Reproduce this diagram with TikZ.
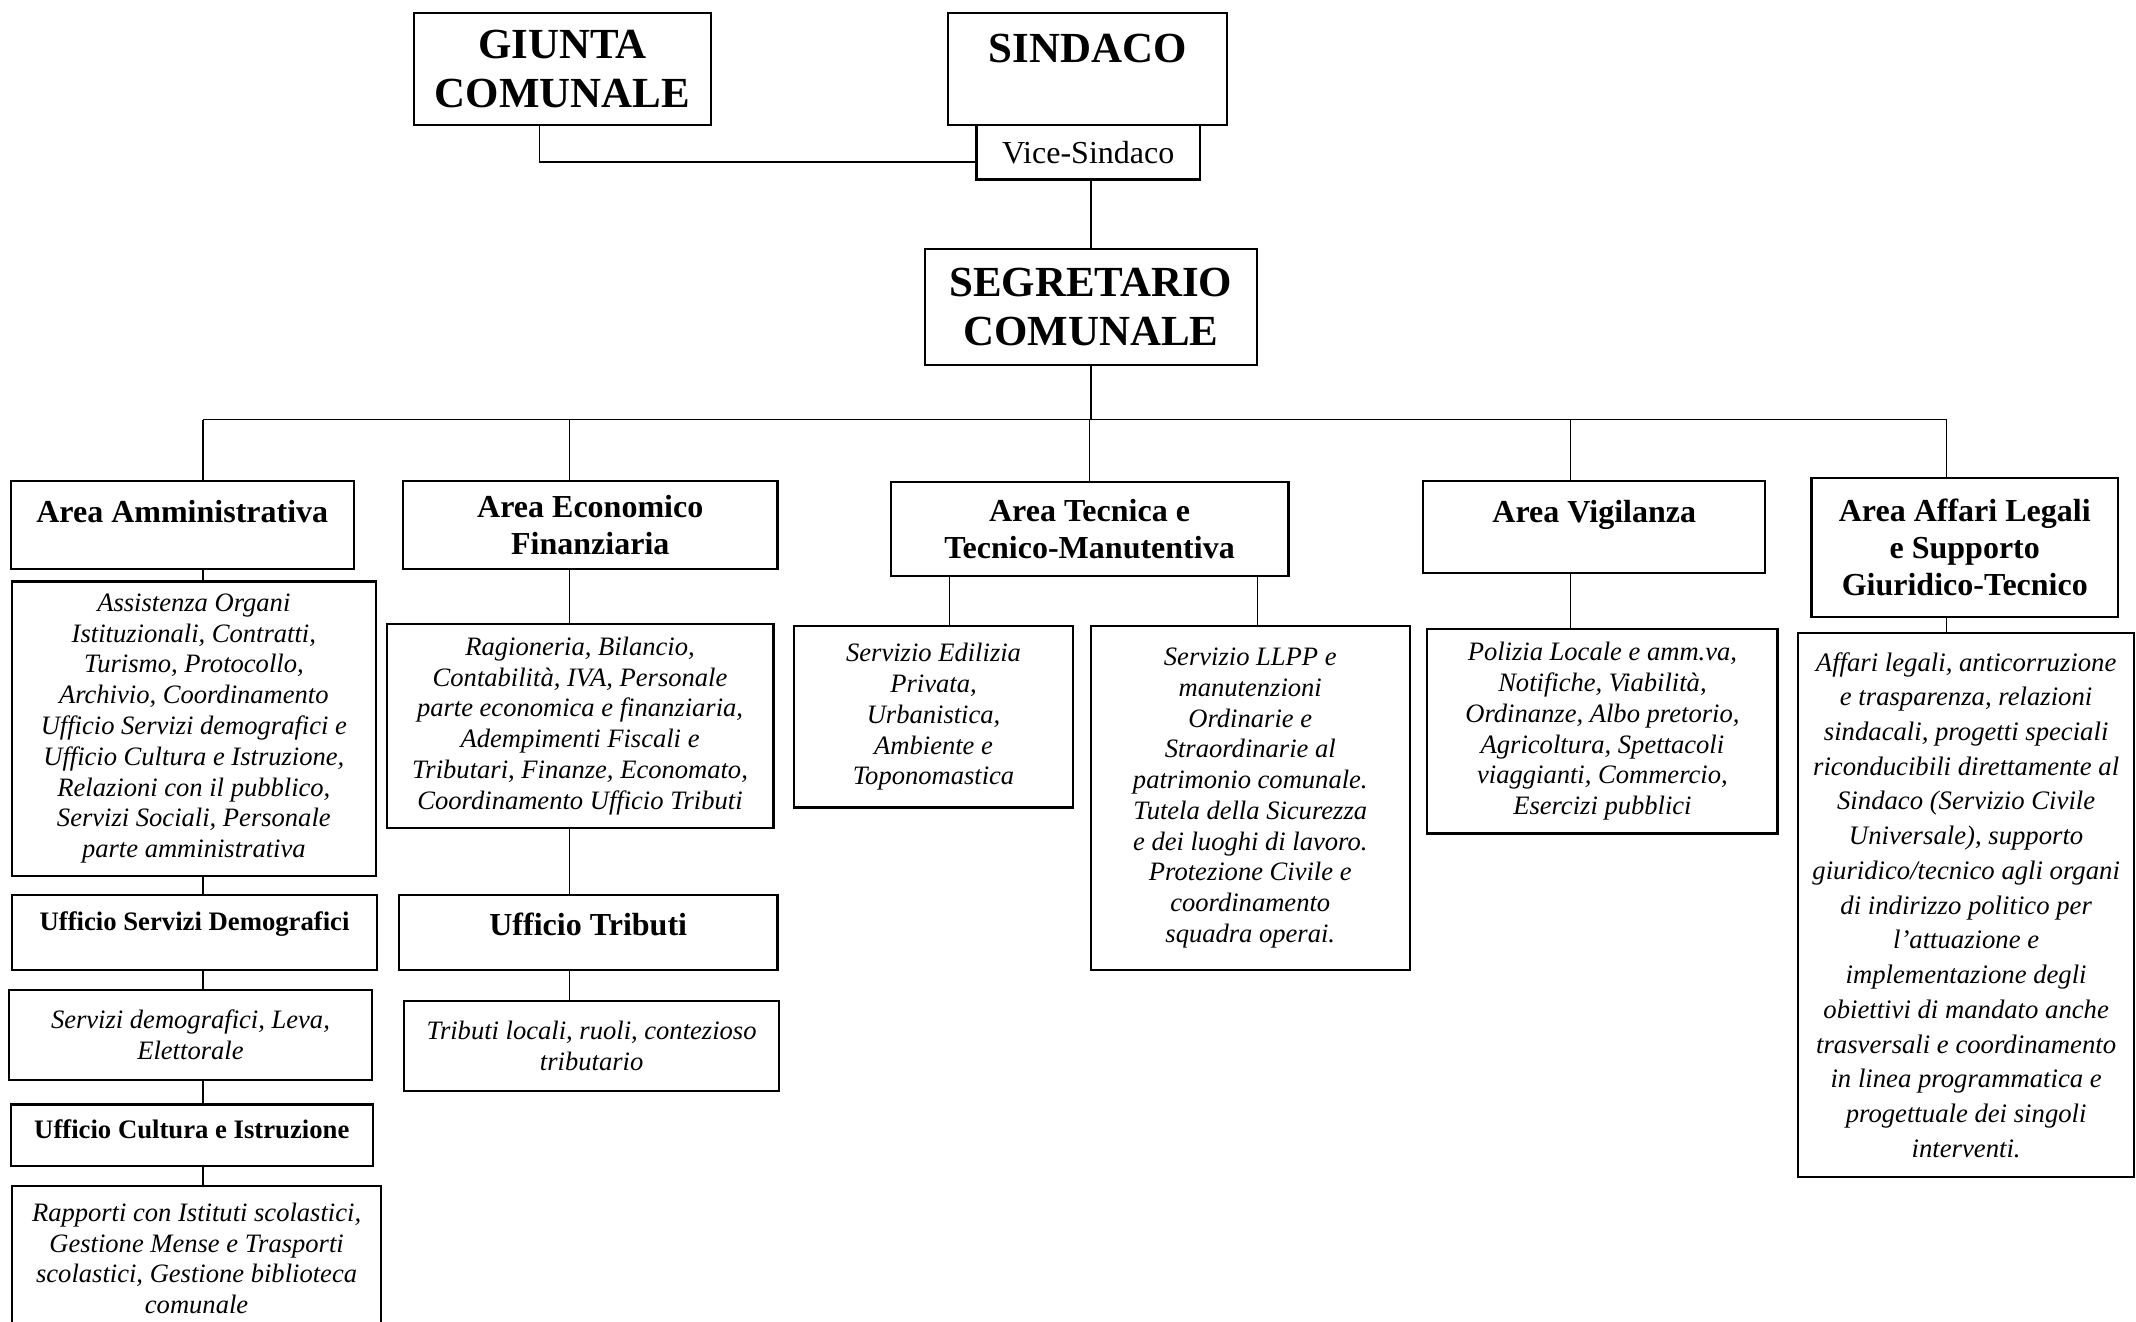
\documentclass[tikz,border=0pt]{standalone}
\usepackage{fontspec}
\setmainfont{Liberation Serif}
\newcommand\bigfont{\fontsize{31.5}{36}\selectfont\bfseries}
\newcommand\areafont{\fontsize{23.5}{27}\selectfont\bfseries}
\newcommand\uffont{\fontsize{19.6}{22}\selectfont\bfseries}
\newcommand\vicefont{\fontsize{23.5}{27}\selectfont}
\newcommand\descfont{\fontsize{19.5}{22.6}\selectfont\itshape}
\newcommand\legfont{\fontsize{19.6}{25.5}\selectfont\itshape}

\begin{document}
\begin{tikzpicture}[x=1pt,y=-1pt,
  box/.style={draw,line width=1.6pt,inner sep=0pt,align=center,anchor=north west},
  link/.style={line width=1pt}]
  \useasboundingbox (0,0) rectangle (1568,970);
  \clip (0,0) rectangle (1568,970);
  % NODES
  \node[box,minimum width=218pt,minimum height=82pt,font=\bigfont] (giunta) at (303,9) {GIUNTA\\COMUNALE};
  \node[box,minimum width=205pt,text height=36pt,text depth=46pt,font=\bigfont] (sindaco) at (695,9) {SINDACO};
  \node[box,minimum width=164pt,minimum height=40pt,font=\vicefont] (vice) at (716,91) {Vice-Sindaco};
  \node[box,minimum width=244pt,minimum height=85pt,font=\bigfont] (segr) at (678,182) {SEGRETARIO\\COMUNALE};
  % areas
  \node[box,minimum width=252pt,text height=30.6pt,text depth=34.4pt,font=\areafont] (amm) at (7,352) {Area Amministrativa};
  \node[box,minimum width=275pt,minimum height=65pt,font=\areafont] (econ) at (295,352) {Area Economico\\Finanziaria};
  \node[box,minimum width=292pt,minimum height=69pt,font=\areafont] (tec) at (653,353) {Area Tecnica e\\Tecnico-Manutentiva};
  \node[box,minimum width=251pt,text height=30.6pt,text depth=37.4pt,font=\areafont] (vig) at (1044,352) {Area Vigilanza};
  \node[box,minimum width=225pt,minimum height=102pt,font=\areafont] (aff) at (1329,350) {Area Affari Legali\\e Supporto\\Giuridico-Tecnico};
  % area amministrativa
  \node[box,minimum width=267pt,minimum height=216pt,font=\descfont] (ammd) at (8,426)
    {Assistenza Organi\\Istituzionali, Contratti,\\Turismo, Protocollo,\\Archivio, Coordinamento\\Ufficio Servizi demografici e\\Ufficio Cultura e Istruzione,\\Relazioni con il pubblico,\\Servizi Sociali, Personale\\parte amministrativa};
  \node[box,minimum width=268pt,text height=26.3pt,text depth=28.7pt,font=\uffont] (demo) at (8,656) {Ufficio Servizi Demografici};
  \node[box,minimum width=266pt,minimum height=66pt,font=\descfont] (demod) at (6,726) {Servizi demografici, Leva,\\Elettorale};
  \node[box,minimum width=266pt,text height=25.3pt,text depth=19.7pt,font=\uffont] (cult) at (7,810) {Ufficio Cultura e Istruzione};
  \node[box,minimum width=271pt,minimum height=106pt,font=\descfont] (cultd) at (8,870)
    {Rapporti con Istituti scolastici,\\Gestione Mense e Trasporti\\scolastici, Gestione biblioteca\\comunale};
  % area economico finanziaria
  \node[box,minimum width=284pt,minimum height=150pt,font=\descfont] (econd) at (283,457)
    {Ragioneria, Bilancio,\\Contabilità, IVA, Personale\\parte economica e finanziaria,\\Adempimenti Fiscali e\\Tributari, Finanze, Economato,\\Coordinamento Ufficio Tributi};
  \node[box,minimum width=278pt,text height=29.6pt,text depth=25.4pt,font=\areafont] (trib) at (292,656) {Ufficio Tributi};
  \node[box,minimum width=275pt,minimum height=66pt,font=\descfont] (tribd) at (296,734) {Tributi locali, ruoli, contezioso\\tributario};
  % area tecnica
  \node[box,minimum width=205pt,minimum height=133pt,font=\descfont] (edil) at (582,459)
    {Servizio Edilizia\\Privata,\\Urbanistica,\\Ambiente e\\Toponomastica};
  \node[box,minimum width=234pt,minimum height=252pt,font=\descfont] (llpp) at (800,459)
    {Servizio LLPP e\\manutenzioni\\Ordinarie e\\Straordinarie al\\patrimonio comunale.\\Tutela della Sicurezza\\e dei luoghi di lavoro.\\Protezione Civile e\\coordinamento\\squadra operai.};
  % area vigilanza
  \node[box,minimum width=257pt,minimum height=150pt,font=\descfont] (pol) at (1047,461)
    {Polizia Locale e amm.va,\\Notifiche, Viabilità,\\Ordinanze, Albo pretorio,\\Agricoltura, Spettacoli\\viaggianti, Commercio,\\Esercizi pubblici};
  % area affari legali
  \node[box,minimum width=247pt,minimum height=399pt,font=\legfont] (affd) at (1319,464)
    {Affari legali, anticorruzione\\e trasparenza, relazioni\\sindacali, progetti speciali\\riconducibili direttamente al\\Sindaco (Servizio Civile\\Universale), supporto\\giuridico/tecnico agli organi\\di indirizzo politico per\\l’attuazione e\\implementazione degli\\obiettivi di mandato anche\\trasversali e coordinamento\\in linea programmatica e\\progettuale dei singoli\\interventi.};
  % PATHS
  \coordinate (c1) at (149,308);
  \coordinate (c2) at (418,308);
  \coordinate (c3) at (800,308);
  \coordinate (c4) at (1153,308);
  \coordinate (c5) at (1429,308);
  \coordinate (t1) at (697,0);
  \coordinate (t2) at (923,0);
  \draw[link] ([xshift=-17pt]giunta.south) |- ([yshift=-7pt]vice.west);
  \draw[link] (segr.north |- vice.south) -- (segr.north);
  \draw[link] (segr.south) -- (segr.south |- c3);
  \draw[link] (c1) -- (c5);
  \foreach \c/\n in {c1/amm,c2/econ,c3/tec,c4/vig,c5/aff}
    \draw[link] (\c) -- (\c |- \n.north);
  \foreach \a/\b in {amm/ammd,ammd/demo,demo/demod,demod/cult,cult/cultd}
    \draw[link] (\a.south -| c1) -- (\b.north -| c1);
  \foreach \a/\b in {econ/econd,econd/trib,trib/tribd}
    \draw[link] (\a.south -| c2) -- (\b.north -| c2);
  \draw[link] (tec.south -| t1) -- (edil.north -| t1);
  \draw[link] (tec.south -| t2) -- (llpp.north -| t2);
  \draw[link] (vig.south -| c4) -- (pol.north -| c4);
  \draw[link] (aff.south -| c5) -- (affd.north -| c5);
\end{tikzpicture}
\end{document}
